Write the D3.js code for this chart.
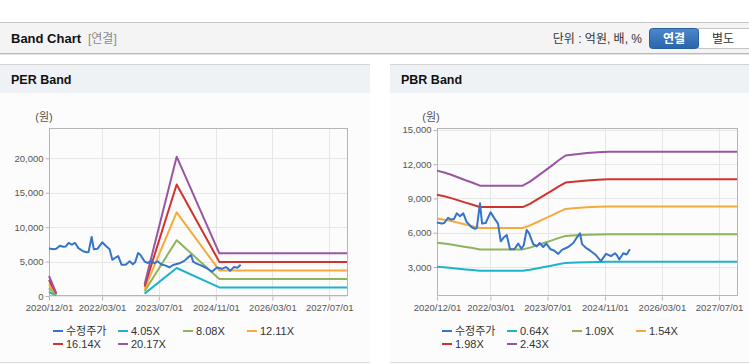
<!DOCTYPE html>
<html><head><meta charset="utf-8">
<script src="https://cdn.jsdelivr.net/npm/d3@7"></script>
<style>
body{margin:0;background:#fff;}
svg{display:block;font-family:"Liberation Sans",Arial,"Noto Sans CJK KR",sans-serif;}
</style></head>
<body><svg id="c" width="749" height="364"></svg>
<script>
// ---------- DATA ----------
const priceDates = ["2020-12-01","2021-01-10","2021-02-01","2021-03-05","2021-04-01","2021-04-25","2021-05-18","2021-06-15","2021-07-13","2021-08-10","2021-09-20","2021-10-20","2021-11-05","2021-12-02","2021-12-20","2022-01-20","2022-03-03","2022-04-01","2022-05-05","2022-05-28","2022-06-20","2022-07-18","2022-08-15","2022-09-20","2022-10-24","2022-11-20","2022-12-10","2023-01-04","2023-01-25","2023-03-01","2023-03-30","2023-04-25","2023-05-25","2023-06-20","2023-07-27","2023-08-25","2023-09-30","2023-11-01","2023-12-24","2024-02-05","2024-03-01","2024-04-02","2024-04-20","2024-05-20","2024-06-26","2024-08-10","2024-09-28","2024-11-10","2024-12-23","2025-01-25","2025-02-10","2025-03-03","2025-04-06","2025-05-05","2025-06-02"];
const priceValues = [6900,6800,6850,7300,7150,7200,7700,7450,7700,6950,6500,6350,6400,8580,6800,6850,7800,7300,6800,5250,5550,5800,4550,4550,5050,4600,4900,6250,5950,5000,4800,5100,4750,5050,4550,4450,4150,4500,4750,5100,5500,5950,5000,4700,4450,4100,3520,4150,3950,4200,4050,3650,4200,4100,4550];

const perBandDates = ["2020-12-01","2021-02-01","2022-06-01","2023-03-01","2023-12-01","2024-12-01","2027-12-01"];
const per405  = [583, 81, null, 344, 4062, 1243, 1243];
const per808  = [1164, 162, null, 687, 8104, 2481, 2481];
const per1211 = [1744, 242, null, 1029, 12146, 3718, 3718];
const per1614 = [2324, 323, null, 1372, 16188, 4955, 4955];
const per2017 = [2904, 403, null, 1714, 20231, 6192, 6192];

const pbrBandDates = ["2020-12-01","2021-02-01","2021-04-01","2021-06-01","2021-08-01","2021-10-01","2021-12-01","2022-12-01","2023-02-01","2023-04-01","2023-06-01","2023-08-01","2023-10-01","2023-12-01","2024-03-01","2024-06-01","2024-09-01","2024-12-01","2027-12-01"];
const pbr064 = [3012,2970,2918,2854,2790,2733,2666,2666,2758,2874,2995,3117,3245,3360,3392,3418,3437,3450,3450];
const pbr109 = [5130,5058,4970,4861,4752,4654,4540,4540,4698,4894,5101,5308,5526,5723,5777,5821,5853,5876,5876];
const pbr154 = [7247,7146,7022,6868,6714,6576,6414,6414,6637,6915,7207,7500,7808,8085,8162,8224,8270,8302,8302];
const pbr198 = [9318,9187,9029,8831,8633,8455,8247,8247,8534,8890,9266,9643,10039,10395,10494,10573,10633,10674,10674];
const pbr243 = [11436,11275,11081,10838,10595,10376,10121,10121,10473,10911,11372,11834,12320,12758,12879,12976,13049,13100,13100];

const xTickLabels = ["2020/12/01","2022/03/01","2023/07/01","2024/11/01","2026/03/01","2027/07/01"];
const xDomain = ["2020-12-01","2027-12-01"];
const perYTicks = [0,5000,10000,15000,20000];
const pbrYTicks = [3000,6000,9000,12000,15000];
const perLegend = ["수정주가","4.05X","8.08X","12.11X","16.14X","20.17X"];
const pbrLegend = ["수정주가","0.64X","1.09X","1.54X","1.98X","2.43X"];
const seriesColors = ["#3574c6","#1db3c8","#8fb35b","#f5aa3a","#d0322c","#9a55a2"];

// ---------- DRAW ----------
const svg = d3.select("#c");
const parse = d3.timeParse("%Y-%m-%d");
const parseTick = d3.timeParse("%Y/%m/%d");

// header
svg.append("rect").attr("x",0).attr("y",22).attr("width",749).attr("height",31).attr("fill","#f4f4f4");
svg.append("line").attr("x1",0).attr("x2",749).attr("y1",22.5).attr("y2",22.5).attr("stroke","#c6c6c6");
svg.append("line").attr("x1",0).attr("x2",749).attr("y1",53.5).attr("y2",53.5).attr("stroke","#b8b8b8");
svg.append("line").attr("x1",0).attr("x2",749).attr("y1",54.5).attr("y2",54.5).attr("stroke","#e4e4e4");
svg.append("text").attr("x",11).attr("y",43).attr("font-size",13).attr("font-weight","bold").attr("fill","#111").text("Band Chart");
svg.append("text").attr("x",88).attr("y",43).attr("font-size",12).attr("fill","#8a8a8a").text("[연결]");
svg.append("text").attr("x",642).attr("y",43).attr("text-anchor","end").attr("font-size",12).attr("fill","#333").text("단위 : 억원, 배, %");
const grad = svg.append("defs").append("linearGradient").attr("id","btn").attr("x1",0).attr("x2",0).attr("y1",0).attr("y2",1);
grad.append("stop").attr("offset","0%").attr("stop-color","#4b88cc");
grad.append("stop").attr("offset","100%").attr("stop-color","#2a64ab");
svg.append("rect").attr("x",698.5).attr("y",28.5).attr("width",52).attr("height",20).attr("fill","#fff").attr("stroke","#c4c4c4");
svg.append("rect").attr("x",649.5).attr("y",28.5).attr("width",49).attr("height",20).attr("rx",3).attr("fill","url(#btn)").attr("stroke","#2a5f9f");
svg.append("text").attr("x",674).attr("y",43).attr("text-anchor","middle").attr("font-size",12).attr("font-weight","bold").attr("fill","#fff").text("연결");
svg.append("text").attr("x",723).attr("y",43).attr("text-anchor","middle").attr("font-size",12).attr("fill","#333").text("별도");

function panel(cfg){
  const g = svg.append("g");
  // panel background
  g.append("rect").attr("x",cfg.px).attr("y",64).attr("width",cfg.pw).attr("height",298).attr("fill","#fcfcfc");
  g.append("rect").attr("x",cfg.px).attr("y",64).attr("width",cfg.pw).attr("height",29).attr("fill","#eef2f7");
  g.append("line").attr("x1",cfg.px).attr("x2",cfg.px+cfg.pw).attr("y1",64.5).attr("y2",64.5).attr("stroke","#d4d4d4");
  g.append("line").attr("x1",cfg.px).attr("x2",cfg.px+cfg.pw).attr("y1",362.5).attr("y2",362.5).attr("stroke","#d8d8d8");
  g.append("text").attr("x",cfg.px+11).attr("y",84).attr("font-size",12.5).attr("font-weight","bold").attr("fill","#111").text(cfg.title);

  const x = d3.scaleTime().domain(xDomain.map(parse)).range([cfg.l, cfg.r]);
  const y = d3.scaleLinear().domain(cfg.yDomain).range([296, 128]);
  const xTicks = xTickLabels.map(parseTick);

  // grid
  g.append("g").selectAll("line").data(cfg.yTicks).join("line")
    .attr("x1",cfg.l).attr("x2",cfg.r).attr("y1",d=>Math.round(y(d))+0.5).attr("y2",d=>Math.round(y(d))+0.5)
    .attr("stroke","#e6e6e6");
  g.append("g").selectAll("line").data(xTicks).join("line")
    .attr("x1",d=>Math.round(x(d))+0.5).attr("x2",d=>Math.round(x(d))+0.5).attr("y1",128).attr("y2",296)
    .attr("stroke","#e6e6e6");
  // frame
  g.append("rect").attr("x",cfg.l+0.5).attr("y",128.5).attr("width",cfg.r-cfg.l).attr("height",167).attr("fill","none").attr("stroke","#b5b5b5");

  // axes
  const xa = g.append("g").attr("transform","translate(0,296.5)")
    .call(d3.axisBottom(x).tickValues(xTicks).tickFormat(d3.timeFormat("%Y/%m/%d")).tickSize(4).tickPadding(4));
  const ya = g.append("g").attr("transform",`translate(${cfg.l+0.5},0)`)
    .call(d3.axisLeft(y).tickValues(cfg.yTicks).tickFormat(d3.format(",")).tickSize(4).tickPadding(2));
  [xa,ya].forEach(a=>{
    a.select(".domain").remove();
    a.selectAll(".tick line").attr("stroke","#b5b5b5");
    a.selectAll(".tick text").attr("fill","#555").attr("font-size",9.5).attr("font-family","'Liberation Sans',Arial,sans-serif");
  });
  g.append("text").attr("x",cfg.unitX).attr("y",121).attr("text-anchor","middle").attr("font-size",11).attr("fill","#555").text("(원)");

  const line = d3.line().defined(d=>d[1]!==null).x(d=>x(d[0])).y(d=>y(d[1]));
  const plot = g.append("g");
  const bDates = cfg.bandDates.map(parse);
  cfg.bands.forEach((vals,i)=>{
    plot.append("path").datum(bDates.map((d,j)=>[d,vals[j]]))
      .attr("d",line).attr("fill","none").attr("stroke",seriesColors[i+1]).attr("stroke-width",2).attr("stroke-linejoin","round");
  });
  plot.append("path").datum(priceDates.map((d,j)=>[parse(d),priceValues[j]]))
    .attr("d",line).attr("fill","none").attr("stroke",seriesColors[0]).attr("stroke-width",2).attr("stroke-linejoin","round");

  // legend
  const cols = [0,65,130,194];
  cfg.legend.forEach((name,i)=>{
    const lx = cfg.legX + cols[i%4];
    const ly = i<4 ? 331 : 344;
    g.append("line").attr("x1",lx).attr("x2",lx+10).attr("y1",ly).attr("y2",ly).attr("stroke",seriesColors[i]).attr("stroke-width",2);
    g.append("text").attr("x",lx+13).attr("y",ly+4).attr("font-size",11).attr("fill","#333").text(name);
  });
}

panel({px:0,pw:370,title:"PER Band",l:49,r:347,yDomain:[0,24400],yTicks:perYTicks,unitX:44,
  bandDates:perBandDates,bands:[per405,per808,per1211,per1614,per2017],legend:perLegend,legX:53});
panel({px:390,pw:359,title:"PBR Band",l:437,r:737,yDomain:[460,15170],yTicks:pbrYTicks,unitX:431,
  bandDates:pbrBandDates,bands:[pbr064,pbr109,pbr154,pbr198,pbr243],legend:pbrLegend,legX:442});
</script></body></html>
